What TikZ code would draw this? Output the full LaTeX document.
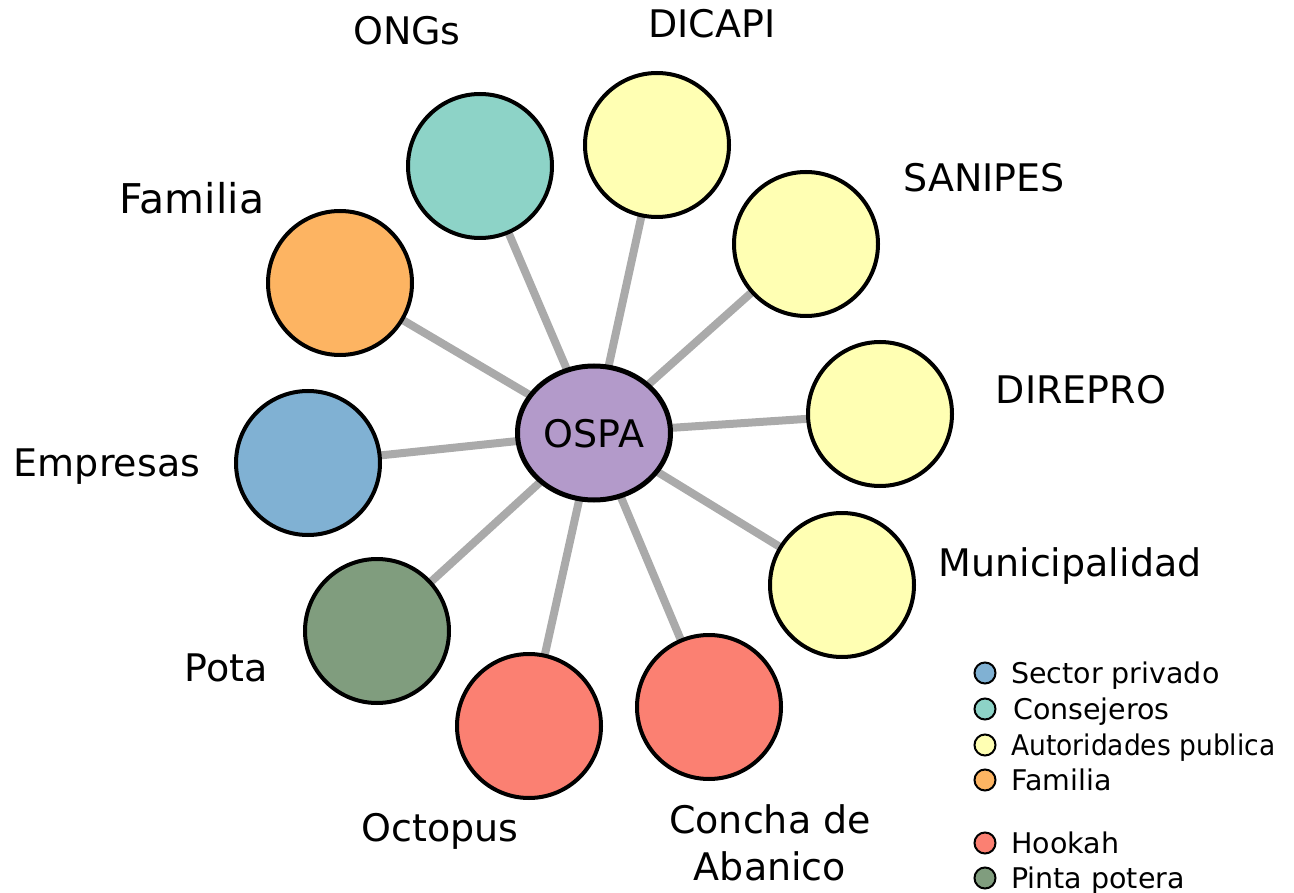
\documentclass[tikz,border=0pt]{standalone}
\usepackage{fontspec}
\setmainfont{DejaVu Sans}
\usetikzlibrary{shapes.geometric,backgrounds}
\definecolor{cpurple}{HTML}{B39ACA}
\definecolor{cteal}{HTML}{8DD3C7}
\definecolor{cyellow}{HTML}{FFFFB3}
\definecolor{cred}{HTML}{FB8072}
\definecolor{cblue}{HTML}{80B1D3}
\definecolor{corange}{HTML}{FDB462}
\definecolor{cgreen}{HTML}{809D7E}
\definecolor{cedge}{HTML}{AAAAAA}
\tikzset{
  actor/.style={circle,draw=black,line width=4pt,minimum size=144pt,inner sep=0pt},
  hub/.style={ellipse,draw=black,line width=5pt,minimum width=153pt,minimum height=134pt,inner sep=0pt,fill=cpurple},
  lbl/.style={anchor=base,inner sep=0pt,font=\fontsize{38}{45}\selectfont},
  link/.style={draw=cedge,line width=8pt},
  legdot/.style={circle,draw=black,line width=2pt,minimum size=21pt,inner sep=0pt},
  legtxt/.style={anchor=base west,inner sep=0pt,font=\fontsize{28.5}{33}\selectfont}
}
\begin{document}
\begin{tikzpicture}[x=1pt,y=-1pt]
\useasboundingbox (0,0) rectangle (1294,893);
\clip (0,0) rectangle (1294,893);
% hub
\node[hub] (ospa) at (594,433) {};
\node[lbl] (ospat) at (594,447) {OSPA};
% actors
\node[actor,fill=cteal] (ongs) at (480,166) {};
\node[actor,fill=cyellow] (dicapi) at (657,145) {};
\node[actor,fill=cyellow] (sanipes) at (806,244) {};
\node[actor,fill=cyellow] (direpro) at (880,414) {};
\node[actor,fill=cyellow] (muni) at (842,585) {};
\node[actor,fill=cred] (concha) at (709,707) {};
\node[actor,fill=cred] (octopus) at (529,726) {};
\node[actor,fill=cgreen] (pota) at (377,631) {};
\node[actor,fill=cblue] (empresas) at (308,463) {};
\node[actor,fill=corange] (familia) at (340,283) {};
% links
\begin{pgfonlayer}{background}
\foreach \n in {ongs,dicapi,sanipes,direpro,muni,concha,octopus,pota,empresas,familia}
  \draw[link] (ospa.center) -- (\n.center);
\end{pgfonlayer}
% labels
\node[lbl] (l1) at (407,45) {ONGs};
\node[lbl] (l2) at (712,37.5) {DICAPI};
\node[lbl] (l3) at (984,192) {SANIPES};
\node[lbl] (l4) at (1081,404) {DIREPRO};
\node[lbl] (l5) at (1070,576) {Municipalidad};
\node[lbl] (l6a) at (770,833) {Concha de};
\node[lbl] (l6b) at (770,880) {Abanico};
\node[lbl] (l7) at (440,841) {Octopus};
\node[lbl] (l8) at (226,681) {Pota};
\node[lbl] (l9) at (107,476) {Empresas};
\node[lbl,font=\fontsize{41}{48}\selectfont] (l10) at (192,214) {Familia};
% legend
\node[legdot,fill=cblue] (g1) at (985,673) {};
\node[legtxt] (t1) at (1011,683) {Sector privado};
\node[legdot,fill=cteal] (g2) at (985,709) {};
\node[legtxt] (t2) at (1013,719) {Consejeros};
\node[legdot,fill=cyellow] (g3) at (985,745) {};
\node[legtxt] (t3) at (1011,755) {\scalebox{0.93}[1]{Autoridades publica}};
\node[legdot,fill=corange] (g4) at (985,780) {};
\node[legtxt] (t4) at (1011,790) {Familia};
\node[legdot,fill=cred] (g5) at (985,843) {};
\node[legtxt] (t5) at (1011,853) {Hookah};
\node[legdot,fill=cgreen] (g6) at (985,878) {};
\node[legtxt] (t6) at (1011,888) {Pinta potera};
\end{tikzpicture}
\end{document}
